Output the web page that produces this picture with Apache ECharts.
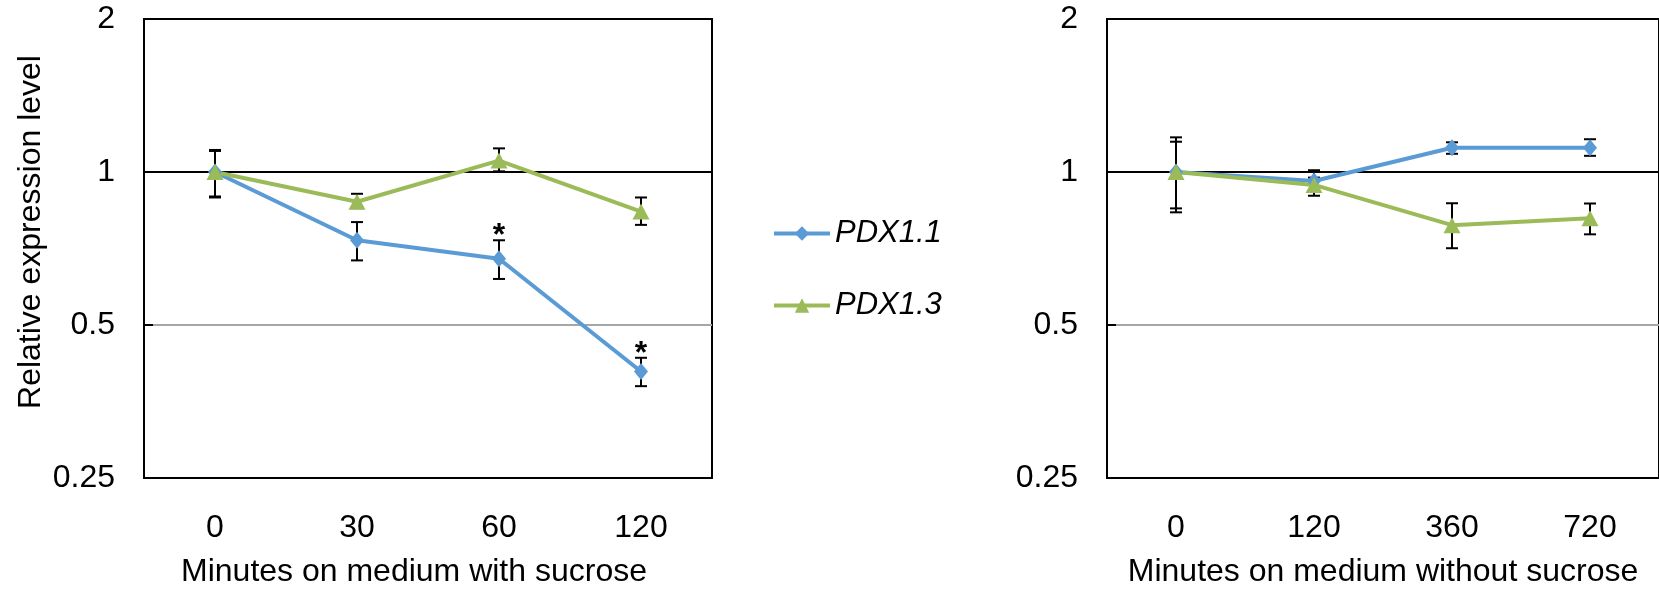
<!DOCTYPE html>
<html>
<head>
<meta charset="utf-8">
<script src="https://cdn.jsdelivr.net/npm/echarts@6/dist/echarts.min.js"></script>
<style>
  html, body { margin: 0; padding: 0; background: #fff; }
  #chart { width: 1659px; height: 593px; }
</style>
</head>
<body>
<div id="chart"></div>
<script>
// tick labels shared by both panels
const yTicks = [0.25, 0.5, 1, 2]

// left panel: with sucrose
const leftCats = ['0', '30', '60', '120']
const leftPdx11 = [1.0, 0.734, 0.675, 0.405]
const leftPdx11Lo = [0.891, 0.67, 0.616, 0.379]
const leftPdx11Hi = [1.105, 0.797, 0.734, 0.431]
const leftPdx11Sig = ['', '', '*', '*']
const leftPdx13 = [1.0, 0.874, 1.053, 0.836]
const leftPdx13Lo = [0.895, 0.849, 1.003, 0.787]
const leftPdx13Hi = [1.1, 0.906, 1.113, 0.891]

// right panel: without sucrose
const rightCats = ['0', '120', '360', '720']
const rightPdx11 = [1.0, 0.96, 1.116, 1.116]
const rightPdx11Lo = [0.833, 0.915, 1.086, 1.076]
const rightPdx11Hi = [1.17, 1.008, 1.144, 1.16]
const rightPdx13 = [1.0, 0.943, 0.786, 0.811]
const rightPdx13Lo = [0.848, 0.898, 0.708, 0.754]
const rightPdx13Hi = [1.147, 0.975, 0.868, 0.867]

const BLUE = '#5B9BD5'
const GREEN = '#9BBB59'
const FONT = '"Liberation Sans", Arial, sans-serif'

const chart = echarts.init(document.getElementById('chart'))

function errorSeries(gridIdx, lo, hi, sig) {
  return {
    type: 'custom',
    xAxisIndex: gridIdx,
    yAxisIndex: gridIdx,
    z: 1,
    silent: true,
    data: lo.map((v, i) => [i, v, hi[i]]),
    renderItem(params, api) {
      const top = api.coord([api.value(0), api.value(2)])
      const bot = api.coord([api.value(0), api.value(1)])
      const style = { stroke: '#000', lineWidth: 2 }
      const children = [
        { type: 'line', shape: { x1: top[0], y1: top[1], x2: bot[0], y2: bot[1] }, style },
        { type: 'line', shape: { x1: top[0] - 6, y1: top[1], x2: top[0] + 6, y2: top[1] }, style },
        { type: 'line', shape: { x1: bot[0] - 6, y1: bot[1], x2: bot[0] + 6, y2: bot[1] }, style }
      ]
      const mark = sig ? sig[params.dataIndex] : ''
      if (mark) {
        children.push({
          type: 'text',
          style: {
            x: top[0], y: top[1] - 4, text: mark,
            fill: '#000', font: 'bold 32px ' + FONT,
            textAlign: 'center', textVerticalAlign: 'middle'
          }
        })
      }
      return { type: 'group', children }
    }
  }
}

function lineSeries(gridIdx, name, values, color, symbol, size) {
  return {
    name,
    type: 'line',
    xAxisIndex: gridIdx,
    yAxisIndex: gridIdx,
    z: 3,
    data: values,
    symbol,
    symbolSize: size,
    showAllSymbol: true,
    lineStyle: { width: 4, color },
    itemStyle: { color }
  }
}

function yAxisCfg(gridIdx, withName) {
  return {
    type: 'log',
    logBase: 2,
    gridIndex: gridIdx,
    min: 0.25,
    max: 2,
    name: withName ? 'Relative expression level' : '',
    nameLocation: 'middle',
    nameGap: 97,
    nameTextStyle: { color: '#000', fontSize: 32, fontFamily: FONT, padding: [0, 0, 0, 33] },
    axisLine: { show: true, lineStyle: { color: '#000', width: 2 } },
    axisTick: { show: true, inside: true, length: 9, lineStyle: { color: '#000', width: 2 } },
    axisLabel: {
      color: '#000', fontSize: 32, fontFamily: FONT, margin: 29, padding: [8, 0, 0, 0],
      formatter: (v) => String(yTicks.reduce((a, b) => (Math.abs(b - v) < Math.abs(a - v) ? b : a)))
    },
    splitLine: { show: true, lineStyle: { color: ['#000', '#A6A6A6', '#000', '#000'], width: 2 } }
  }
}

function xAxisCfg(gridIdx, cats, name, namePad) {
  return {
    type: 'category',
    gridIndex: gridIdx,
    data: cats,
    boundaryGap: true,
    name,
    nameLocation: 'middle',
    nameGap: 78,
    nameTextStyle: { color: '#000', fontSize: 32, fontFamily: FONT, padding: namePad },
    axisLine: { show: false },
    axisTick: { show: false },
    axisLabel: { color: '#000', fontSize: 32, fontFamily: FONT, margin: 34 },
    splitLine: { show: false }
  }
}

chart.setOption({
  animation: false,
  backgroundColor: '#fff',
  grid: [
    { left: 144, top: 19, width: 568, height: 463, show: true, borderColor: '#000', borderWidth: 2, backgroundColor: 'transparent' },
    { left: 1107, top: 19, width: 568, height: 459, show: true, borderColor: '#000', borderWidth: 2, backgroundColor: 'transparent' }
  ],
  legend: {
    orient: 'vertical',
    left: 767,
    top: 213,
    itemWidth: 56,
    itemHeight: 18,
    itemGap: 41,
    data: ['PDX1.1', 'PDX1.3'],
    lineStyle: { width: 4 },
    textStyle: { color: '#000', fontSize: 31, fontStyle: 'italic', fontFamily: FONT }
  },
  xAxis: [
    xAxisCfg(0, leftCats, 'Minutes on medium with sucrose', [0, 28, 0, 0]),
    xAxisCfg(1, rightCats, 'Minutes on medium without sucrose', [0, 0, 0, 0])
  ],
  yAxis: [yAxisCfg(0, true), yAxisCfg(1, false)],
  series: [
    errorSeries(0, leftPdx11Lo, leftPdx11Hi, leftPdx11Sig),
    errorSeries(0, leftPdx13Lo, leftPdx13Hi, null),
    errorSeries(1, rightPdx11Lo, rightPdx11Hi, null),
    errorSeries(1, rightPdx13Lo, rightPdx13Hi, null),
    lineSeries(0, 'PDX1.1', leftPdx11, BLUE, 'diamond', [14, 17]),
    lineSeries(0, 'PDX1.3', leftPdx13, GREEN, 'triangle', [17, 16]),
    lineSeries(1, 'PDX1.1', rightPdx11, BLUE, 'diamond', [14, 17]),
    lineSeries(1, 'PDX1.3', rightPdx13, GREEN, 'triangle', [17, 16])
  ]
})

window.addEventListener('resize', () => chart.resize())
</script>
</body>
</html>
